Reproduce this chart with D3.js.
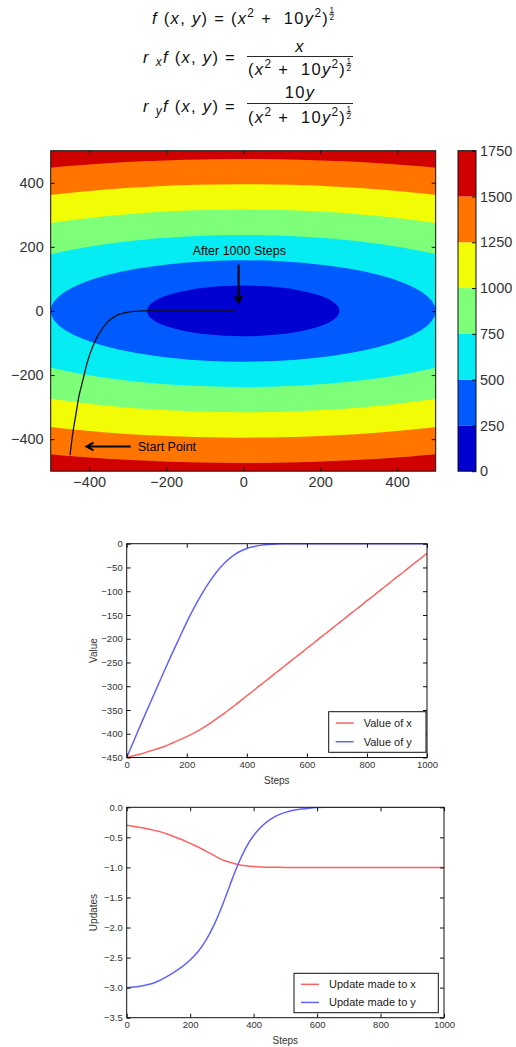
<!DOCTYPE html>
<html><head><meta charset="utf-8">
<script src="https://cdn.jsdelivr.net/npm/d3@7"></script>
<style>
body{margin:0;background:#fff}
svg{display:block}
text{font-family:"Liberation Sans",Arial,sans-serif}
</style>
</head><body>
<svg id="c" width="516" height="1047"></svg>
<script>
// ---------- data ----------
const steps = [0,25,50,75,100,125,150,175,200,225,250,275,300,325,350,375,400,425,450,475,500,
  525,550,575,600,625,650,675,700,725,750,775,800,825,850,875,900,925,950,975,1000];
const valueX = [-450,-446,-442,-437,-432,-427,-420,-413,-406,-398,-389,-379,-368,-357,-345,-333,-320,-308,-295,-283,-270,
  -258,-245,-233,-220,-208,-195,-183,-170,-158,-145,-133,-120,-108,-95,-83,-70,-58,-45,-33,-20];
const valueY = [-450,-413,-376,-340,-304,-268,-233,-199,-165,-134,-106,-81,-59,-41,-27,-17,-10,-6,-3,-1.5,-0.5,
  0,0,0,0,0,0,0,0,0,0,0,0,0,0,0,0,0,0,0,0];
const updateX = [-0.30,-0.32,-0.34,-0.37,-0.40,-0.44,-0.49,-0.54,-0.60,-0.66,-0.73,-0.80,-0.87,-0.915,-0.95,-0.972,-0.986,
  -0.993,-0.997,-0.999,-1.0,-1.0,-1.0,-1.0,-1.0,-1.0,-1.0,-1.0,-1.0,-1.0,-1.0,-1.0,-1.0,-1.0,-1.0,-1.0,-1.0,-1.0,-1.0,-1.0,-1.0];
const updateY = [-3.00,-2.99,-2.97,-2.94,-2.89,-2.82,-2.74,-2.65,-2.54,-2.40,-2.21,-1.96,-1.65,-1.30,-0.96,-0.68,-0.47,
  -0.32,-0.21,-0.135,-0.085,-0.05,-0.03,-0.015,-0.005,0,0,0,0,0,0,0,0,0,0,0,0,0,0,0,0];

const contourLevels = [0,250,500,750,1000,1250,1500,1750];
const bandColors = ["#0000d1","#005bff","#05edf2","#7dff7a","#f1fc05","#ff7500","#d10000"];
const yWeight = 10; // f(x,y) = (x^2 + 10 y^2)^(1/2)
const contourDomain = [-500, 500];
const contourTicks = [-400,-200,0,200,400];
const colorbarTicks = [0,250,500,750,1000,1250,1500,1750];
const stepTicks = [0,200,400,600,800,1000];
const valueTicks = [0,-50,-100,-150,-200,-250,-300,-350,-400,-450];
const updateTicks = [0,-0.5,-1.0,-1.5,-2.0,-2.5,-3.0,-3.5];
const legendValue = ["Value of x","Value of y"];
const legendUpdate = ["Update made to x","Update made to y"];
const annotEnd = {text:"After 1000 Steps", tx:-10, ty:176, from:[-12,145], to:[-12,27]};
const annotStart = {text:"Start Point", tx:-274, ty:-436, from:[-292,-423], to:[-407,-423]};

const svg = d3.select("#c");
const defs = svg.append("defs");

// ---------- formulas ----------
const LS = 1.3;
function mathRun(x, y, parts, size, anchor){
  const g = svg.append("g");
  let cx = 0;
  parts.forEach(p=>{
    if(p.half){
      const hs = size*0.5;
      const hg = g.append("g");
      hg.append("text").attr("x",cx+hs*0.32).attr("y",y-size*0.66).attr("font-size",hs).attr("text-anchor","middle").attr("fill","#111").text("1");
      hg.append("line").attr("x1",cx).attr("x2",cx+hs*0.64).attr("y1",y-size*0.6).attr("y2",y-size*0.6).attr("stroke","#111").attr("stroke-width",0.6);
      hg.append("text").attr("x",cx+hs*0.32).attr("y",y-size*0.22).attr("font-size",hs).attr("text-anchor","middle").attr("fill","#111").text("2");
      cx += hs*0.7;
      return;
    }
    const fs = p.sup||p.sub ? size*0.72 : size;
    const dy = p.sup ? -size*0.4 : (p.sub ? size*0.2 : 0);
    const t = g.append("text").attr("x",cx).attr("y",y+dy).attr("font-size",fs)
      .attr("letter-spacing",LS)
      .attr("font-style",p.i?"italic":"normal").attr("fill","#111").attr("xml:space","preserve").text(p.t);
    cx += t.node().getComputedTextLength();
  });
  let off = x;
  if(anchor==="middle") off = x - cx/2;
  if(anchor==="end") off = x - cx;
  g.attr("transform",`translate(${off},0)`);
  return cx;
}
const denom = [{t:"("},{t:"x",i:true},{t:"2",sup:true},{t:" +  10"},{t:"y",i:true},{t:"2",sup:true},{t:")"},{half:true}];
const FS = 16.5;
mathRun(152, 24, [{t:"f",i:true},{t:" ("},{t:"x",i:true},{t:", "},{t:"y",i:true},{t:") ="}], FS, "start");
mathRun(231, 24, denom, FS, "start");
// line 2
mathRun(143, 63, [{t:"r",i:true},{t:" "},{t:"x",i:true,sub:true},{t:"f",i:true},{t:" ("},{t:"x",i:true},{t:", "},{t:"y",i:true},{t:") ="}], FS, "start");
mathRun(300, 52, [{t:"x",i:true}], FS, "middle");
svg.append("line").attr("x1",247).attr("x2",353).attr("y1",56.5).attr("y2",56.5).attr("stroke","#111").attr("stroke-width",0.9);
mathRun(300, 75, denom, FS, "middle");
// line 3
mathRun(143, 112, [{t:"r",i:true},{t:" "},{t:"y",i:true,sub:true},{t:"f",i:true},{t:" ("},{t:"x",i:true},{t:", "},{t:"y",i:true},{t:") ="}], FS, "start");
mathRun(300, 98, [{t:"10"},{t:"y",i:true}], FS, "middle");
svg.append("line").attr("x1",247).attr("x2",353).attr("y1",103.5).attr("y2",103.5).attr("stroke","#111").attr("stroke-width",0.9);
mathRun(300, 123, denom, FS, "middle");

// ---------- contour ----------
const C = {l:50.7, r:435.7, t:150.7, b:471.2};
const cx = d3.scaleLinear().domain(contourDomain).range([C.l, C.r]);
const cy = d3.scaleLinear().domain(contourDomain).range([C.b, C.t]);
defs.append("clipPath").attr("id","clipC").append("rect")
  .attr("x",C.l).attr("y",C.t).attr("width",C.r-C.l).attr("height",C.b-C.t);
const cg = svg.append("g").attr("clip-path","url(#clipC)");
cg.append("rect").attr("x",C.l).attr("y",C.t).attr("width",C.r-C.l).attr("height",C.b-C.t)
  .attr("fill",bandColors[bandColors.length-1]);
for(let i=bandColors.length-1;i>=1;i--){
  const L = contourLevels[i];
  cg.append("ellipse").attr("cx",cx(0)).attr("cy",cy(0))
    .attr("rx",cx(L)-cx(0)).attr("ry",cy(0)-cy(L/Math.sqrt(yWeight)))
    .attr("fill",bandColors[i-1]);
}
// path of descent
cg.append("path").datum(steps.map((s,i)=>[valueX[i],valueY[i]]))
  .attr("d",d3.line().x(d=>cx(d[0])).y(d=>cy(d[1])).curve(d3.curveCatmullRom))
  .attr("fill","none").attr("stroke","#111").attr("stroke-width",1.3);

function styleAxis(g, fs, col){
  g.select(".domain").remove();
  g.selectAll("line").attr("stroke","#111");
  g.selectAll("text").attr("font-size",fs).attr("fill",col).attr("font-family","'Liberation Sans',Arial,sans-serif");
}
function frameAxes(x, y, box, xt, yt, xf, yf, fs, padX, padY){
  const col = "#333";
  svg.append("g").attr("transform",`translate(0,${box.b})`)
    .call(d3.axisBottom(x).tickValues(xt).tickFormat(xf).tickSizeInner(-4).tickSizeOuter(0).tickPadding(padX))
    .call(g=>styleAxis(g,fs,col));
  svg.append("g").attr("transform",`translate(0,${box.t})`)
    .call(d3.axisTop(x).tickValues(xt).tickFormat("").tickSizeInner(-4).tickSizeOuter(0))
    .call(g=>styleAxis(g,fs,col));
  svg.append("g").attr("transform",`translate(${box.l},0)`)
    .call(d3.axisLeft(y).tickValues(yt).tickFormat(yf).tickSizeInner(-4).tickSizeOuter(0).tickPadding(padY))
    .call(g=>styleAxis(g,fs,col));
  svg.append("g").attr("transform",`translate(${box.r},0)`)
    .call(d3.axisRight(y).tickValues(yt).tickFormat("").tickSizeInner(-4).tickSizeOuter(0))
    .call(g=>styleAxis(g,fs,col));
  svg.append("rect").attr("x",box.l).attr("y",box.t).attr("width",box.r-box.l).attr("height",box.b-box.t)
    .attr("fill","none").attr("stroke","#111").attr("stroke-width",1);
}
frameAxes(cx, cy, C, contourTicks, contourTicks, d3.format("d"), d3.format("d"), 14.5, 6, 7);

// annotations
function arrow(a){
  const x1 = cx(a.from[0]), y1 = cy(a.from[1]), x2 = cx(a.to[0]), y2 = cy(a.to[1]);
  const ang = Math.atan2(y2-y1, x2-x1), h = 8, w = 0.5;
  const p = d3.path();
  p.moveTo(x1,y1); p.lineTo(x2,y2);
  p.moveTo(x2-h*Math.cos(ang-w), y2-h*Math.sin(ang-w)); p.lineTo(x2,y2);
  p.lineTo(x2-h*Math.cos(ang+w), y2-h*Math.sin(ang+w));
  svg.append("path").attr("d",p.toString()).attr("fill","none").attr("stroke","#000").attr("stroke-width",2);
}
svg.append("text").attr("x",cx(annotEnd.tx)).attr("y",cy(annotEnd.ty)).attr("text-anchor","middle")
  .attr("font-size",12.5).attr("fill","#000").text(annotEnd.text);
arrow(annotEnd);
svg.append("text").attr("x",cx(annotStart.tx)).attr("y",cy(annotStart.ty)).attr("text-anchor","start")
  .attr("font-size",12.5).attr("fill","#000").text(annotStart.text);
arrow(annotStart);

// colorbar
const CB = {l:458, r:476, t:150.7, b:471.2};
const cb = d3.scaleLinear().domain([contourLevels[0], contourLevels[contourLevels.length-1]]).range([CB.b, CB.t]);
bandColors.forEach((c,i)=>{
  svg.append("rect").attr("x",CB.l).attr("width",CB.r-CB.l)
    .attr("y",cb(contourLevels[i+1])).attr("height",cb(contourLevels[i])-cb(contourLevels[i+1])).attr("fill",c);
});
svg.append("g").attr("transform",`translate(${CB.r},0)`)
  .call(d3.axisRight(cb).tickValues(colorbarTicks).tickFormat(d3.format("d")).tickSizeInner(-4).tickSizeOuter(0).tickPadding(4))
  .call(g=>styleAxis(g,14.5,"#333"));
svg.append("rect").attr("x",CB.l).attr("y",CB.t).attr("width",CB.r-CB.l).attr("height",CB.b-CB.t)
  .attr("fill","none").attr("stroke","#111").attr("stroke-width",1);

// ---------- line charts ----------
const RED = "#ff6262", BLUE = "#6262ff";
function lineChart(o){
  const x = d3.scaleLinear().domain([0,1000]).range([o.l,o.r]);
  const y = d3.scaleLinear().domain(o.yDomain).range([o.b,o.t]);
  defs.append("clipPath").attr("id",o.id).append("rect").attr("x",o.l).attr("y",o.t).attr("width",o.r-o.l).attr("height",o.b-o.t);
  const line = d3.line().x((d,i)=>x(steps[i])).y(d=>y(d)).curve(d3.curveMonotoneX);
  o.series.forEach(s=>{
    svg.append("path").datum(s.values).attr("d",line).attr("fill","none")
      .attr("stroke",s.color).attr("stroke-width",1.5).attr("clip-path",`url(#${o.id})`);
  });
  frameAxes(x, y, o, stepTicks, o.yTicks, d3.format("d"), o.yFormat, 9.5, 4, 4);
  svg.append("text").attr("x",(o.l+o.r)/2).attr("y",o.b+26).attr("text-anchor","middle")
    .attr("font-size",10).attr("fill","#333").text("Steps");
  svg.append("text").attr("transform",`translate(${o.yLabelX},${(o.t+o.b)/2}) rotate(-90)`)
    .attr("text-anchor","middle").attr("font-size",10).attr("fill","#333").text(o.yLabel);
  // legend
  const L = o.legend;
  svg.append("rect").attr("x",L.x).attr("y",L.y).attr("width",L.w).attr("height",L.h)
    .attr("fill","#fff").attr("stroke","#111").attr("stroke-width",1);
  o.series.forEach((s,i)=>{
    const yy = L.y + L.h*(0.28 + 0.46*i);
    svg.append("line").attr("x1",L.x+7).attr("x2",L.x+25).attr("y1",yy).attr("y2",yy)
      .attr("stroke",s.color).attr("stroke-width",1.5);
    svg.append("text").attr("x",L.x+35).attr("y",yy+4).attr("font-size",11).attr("fill","#222").text(s.name);
  });
}
lineChart({id:"clip1", l:126.7, r:427, t:543.7, b:757.5, yDomain:[-450,0], yTicks:valueTicks,
  yFormat:d3.format("d"), yLabel:"Value", yLabelX:97,
  series:[{name:legendValue[0], values:valueX, color:RED},{name:legendValue[1], values:valueY, color:BLUE}],
  legend:{x:328.7, y:711.7, w:97.3, h:40.6}});
lineChart({id:"clip2", l:126.7, r:444, t:807.3, b:1017.7, yDomain:[-3.5,0], yTicks:updateTicks,
  yFormat:d3.format(".1f"), yLabel:"Updates", yLabelX:97,
  series:[{name:legendUpdate[0], values:updateX, color:RED},{name:legendUpdate[1], values:updateY, color:BLUE}],
  legend:{x:294, y:973.3, w:144.3, h:39.4}});
</script>
</body></html>
